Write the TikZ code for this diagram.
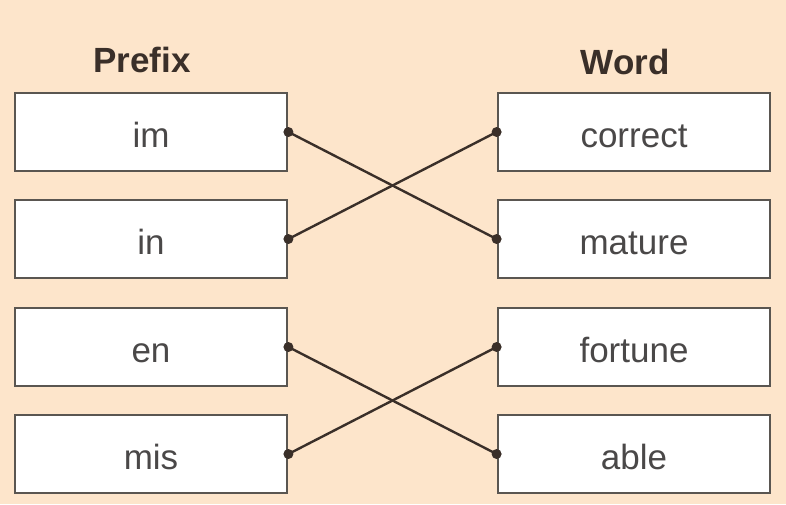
\documentclass[tikz,border=0pt]{standalone}
\usepackage{fontspec}
\setmainfont{Liberation Sans}
\definecolor{fond}{HTML}{FDE5CB}
\definecolor{bord}{HTML}{5A5651}
\definecolor{trait}{HTML}{3A2F29}
\definecolor{texte}{HTML}{4A4848}
\begin{document}
\begin{tikzpicture}[x=0.5pt,y=-0.5pt]
% Styles
\tikzstyle{boite}=[draw=bord,fill=white,line width=1.4pt,minimum width=136pt,minimum height=39pt,inner sep=0pt,text height=18pt,text depth=3pt,text=texte,font=\fontsize{17.5}{21}\selectfont]
\tikzstyle{titre}=[text=trait,font=\fontsize{17.5}{21}\selectfont\bfseries]
\tikzstyle{lien}=[trait,line width=1.2pt]
\tikzstyle{point}=[circle,fill=trait,inner sep=0pt,minimum size=5pt]
% Dimensions
\def\ColG{151}
\def\ColD{634}
\def\LigA{132}
\def\LigB{239}
\def\LigC{347}
\def\LigD{454}
% Fond
\fill[fond] (0,0) rectangle (786,504);
\useasboundingbox (0,0) rectangle (786,504);
% Titres
\node[titre] (tprefix) at (142,60) {Prefix};
\node[titre] (tword) at (625,62) {Word};
% Colonne des préfixes
\node[boite] (pim) at (\ColG,\LigA) {im};
\node[boite] (pin) at (\ColG,\LigB) {in};
\node[boite] (pen) at (\ColG,\LigC) {en};
\node[boite] (pmis) at (\ColG,\LigD) {mis};
% Colonne des mots
\node[boite] (wcorrect) at (\ColD,\LigA) {correct};
\node[boite] (wmature) at (\ColD,\LigB) {mature};
\node[boite] (wfortune) at (\ColD,\LigC) {fortune};
\node[boite] (wable) at (\ColD,\LigD) {able};
% Liaisons
\draw[lien] (pim.east) -- (wmature.west);
\draw[lien] (pin.east) -- (wcorrect.west);
\draw[lien] (pen.east) -- (wable.west);
\draw[lien] (pmis.east) -- (wfortune.west);
% Points
\foreach \n in {pim,pin,pen,pmis}
  \node[point] at (\n.east) {};
\foreach \n in {wcorrect,wmature,wfortune,wable}
  \node[point] at (\n.west) {};
\end{tikzpicture}
\end{document}
